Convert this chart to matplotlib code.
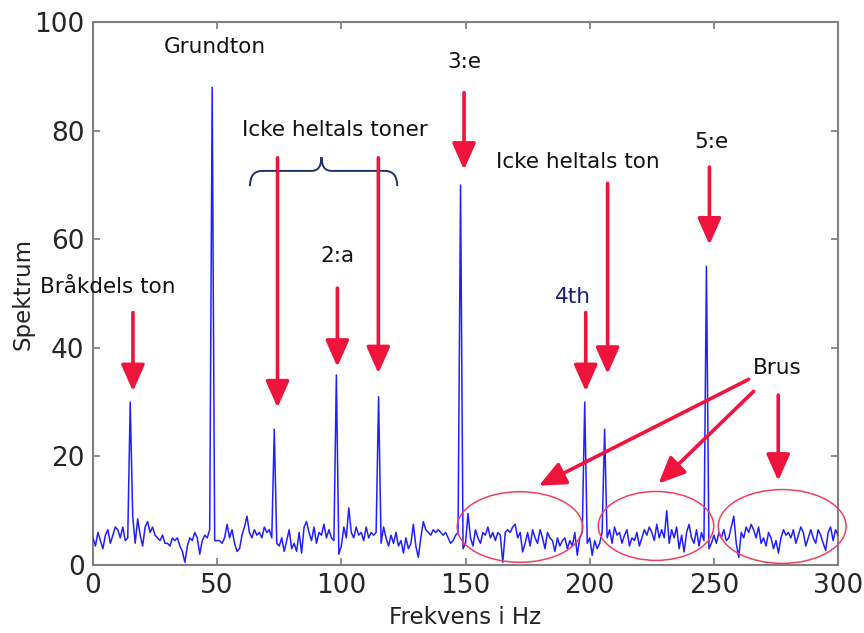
import numpy as np
import matplotlib
matplotlib.use("Agg")
import matplotlib.pyplot as plt
from matplotlib.patches import Ellipse, PathPatch
from matplotlib.path import Path

# ---- data -------------------------------------------------------------
freq_start, freq_step = 0, 1
spectrum = [
    5, 3.5, 6, 4.5, 3, 5.5, 6.5, 4, 5.5, 7,
    6.5, 5, 7, 4.5, 5, 30, 9, 4, 8.5, 5.5,
    3.5, 7, 8, 6, 7, 5.5, 5, 4.5, 5.5, 4,
    4, 3.5, 5, 4.5, 5, 3.5, 2.5, 0.5, 3.5, 5,
    4.5, 6, 5, 2, 4.5, 5.5, 5, 6.5, 88, 4.5,
    4.5, 4.5, 4, 5, 7.5, 5, 6.5, 4, 2.5, 3,
    5.5, 7, 9, 6, 5, 6.5, 5.5, 6, 5, 7,
    6, 6.5, 5, 25, 4, 3.5, 5, 2.5, 4.5, 6.5,
    3, 4, 2.5, 6, 2.2, 7, 8, 6, 4.5, 7,
    4, 6, 5.5, 7.5, 5, 6.5, 5, 4.5, 35, 2,
    3.5, 7, 5, 10.5, 6, 5, 7, 5.5, 6, 4.5,
    7, 5, 6, 5.5, 6, 31, 4, 7, 5, 3.5,
    5.5, 4, 6, 3.5, 4.5, 2.2, 5, 3, 4, 7.5,
    3.5, 1.4, 5, 8, 6.5, 6, 5.5, 6.5, 6, 6.5,
    6, 5.5, 6, 5, 4, 4.5, 5.5, 6, 70, 3,
    4, 9.5, 5, 3.5, 6.5, 5, 4, 6, 5.5, 7,
    5, 6, 4.5, 6, 5.5, 0.5, 6, 6.5, 6, 7,
    7.5, 5, 6, 2.4, 4, 6, 3.5, 6.5, 5, 4,
    6.5, 5, 3, 6, 5, 4.5, 2.5, 5, 3.5, 4.5,
    5, 3, 4.5, 3.5, 6, 1.8, 5, 6, 30, 4,
    5, 1.8, 4.5, 3, 4, 6, 25, 5, 6.5, 4,
    7, 5.5, 6, 4, 5.5, 6.5, 3.5, 5, 4.5, 6,
    3.5, 5, 6.5, 5.5, 7, 6, 4.5, 7.5, 5, 6.5,
    5, 10, 4, 6.5, 5, 7, 3, 5.5, 2.4, 6,
    7.5, 5, 4, 6.5, 3.5, 6, 4.5, 55, 3, 4,
    5.5, 4, 6, 5, 6.5, 4.5, 5, 7, 9, 4,
    1.4, 6, 5, 7, 6, 7.5, 6.5, 5, 7, 4,
    5, 3.5, 6, 5, 3, 4.5, 2.2, 5, 6.5, 5.5,
    6, 5, 6.5, 4, 5.5, 7, 6, 3.5, 5, 6.5,
    5, 4, 6.5, 5.5, 4, 2.7, 6, 7, 4.5, 6.5,
    5.5,
]
freq = freq_start + freq_step * np.arange(len(spectrum))

x_ticks = [0, 50, 100, 150, 200, 250, 300]
y_ticks = [0, 20, 40, 60, 80, 100]
x_label = "Frekvens i Hz"
y_label = "Spektrum"

# annotation texts: (text, x, y, color)
labels = [
    ("Grundton", 49, 95.4, "#111111"),
    ("Icke heltals toner", 97.2, 80.1, "#111111"),
    ("2:a", 98.4, 57.0, "#111111"),
    ("Bråkdels ton", 5.8, 51.2, "#111111"),
    ("3:e", 149.4, 92.6, "#111111"),
    ("Icke heltals ton", 195.2, 74.2, "#111111"),
    ("5:e", 249, 77.9, "#111111"),
    ("4th", 193.2, 49.4, "#1a1a7a"),
    ("Brus", 275.5, 36.3, "#111111"),
]
# arrows: (x_tail, y_tail, x_head, y_head)
arrows = [
    (16.1, 46.5, 16.1, 32.0),
    (74.3, 75.0, 74.3, 29.0),
    (98.4, 51.0, 98.4, 36.5),
    (114.9, 75.0, 114.9, 35.3),
    (149.4, 87.0, 149.4, 72.8),
    (207.2, 70.3, 207.2, 35.2),
    (198.4, 46.5, 198.4, 32.0),
    (248.2, 73.3, 248.2, 59.0),
    (264.0, 34.2, 179.5, 14.6),
    (266.0, 32.0, 227.7, 15.0),
    (275.9, 31.3, 275.9, 15.5),
]
# noise ellipses: (cx, cy, width, height)
ellipses = [
    (171.9, 7.0, 50.5, 13.0),
    (226.7, 7.2, 46.5, 12.7),
    (277.5, 7.1, 51.5, 13.6),
]

# ---- figure -----------------------------------------------------------
plt.rcParams["font.family"] = ["DejaVu Sans"]
fig = plt.figure(figsize=(8.64, 6.33), dpi=100)
ax = fig.add_axes([0.1076, 0.1074, 0.8624, 0.8576])

ax.plot(freq, spectrum, color="#2020ff", lw=1.1, zorder=3)

ax.set_xlim(0, 300)
ax.set_ylim(0, 100)
ax.set_xticks(x_ticks)
ax.set_yticks(y_ticks)
ax.tick_params(direction="in", length=5, width=1.2, color="#7a7a7a",
               top=True, right=True, labelsize=19, labelcolor="#262626", pad=6)
for s in ax.spines.values():
    s.set_color("#808080")
    s.set_linewidth(1.5)
ax.set_xlabel(x_label, fontsize=16.5, color="#222222", labelpad=5)
ax.set_ylabel(y_label, fontsize=16.5, color="#222222", labelpad=0)

for txt, x, y, c in labels:
    ax.text(x, y, txt, fontsize=15.5, color=c, ha="center", va="center", zorder=5)

red = "#f0143c"
for x0, y0, x1, y1 in arrows:
    ax.annotate("", xy=(x1, y1), xytext=(x0, y0),
                arrowprops=dict(arrowstyle="-|>,head_length=0.9,head_width=0.4",
                                color=red, lw=2.6, mutation_scale=18,
                                shrinkA=0, shrinkB=0),
                zorder=6)

for cx, cy, w, h in ellipses:
    ax.add_patch(Ellipse((cx, cy), w, h, fill=False, edgecolor="#f04060",
                         lw=1.1, clip_on=False, zorder=4))

# curly brace above "Icke heltals toner"
bx0, bx1, bxm, by, bh = 63.2, 122.5, 92.0, 72.6, 2.8
verts = [
    (bx0, by - bh), (bx0, by), (bx0 + 5, by),
    (bxm - 4, by), (bxm, by), (bxm, by + bh * 0.9),
    (bxm, by), (bxm + 4, by),
    (bx1 - 5, by), (bx1, by), (bx1, by - bh),
]
codes = [Path.MOVETO, Path.CURVE3, Path.CURVE3,
         Path.LINETO, Path.CURVE3, Path.CURVE3,
         Path.CURVE3, Path.CURVE3,
         Path.LINETO, Path.CURVE3, Path.CURVE3]
ax.add_patch(PathPatch(Path(verts, codes), fill=False, edgecolor="#1f3366",
                       lw=1.4, zorder=5))

fig.savefig("out.png", dpi=100)
